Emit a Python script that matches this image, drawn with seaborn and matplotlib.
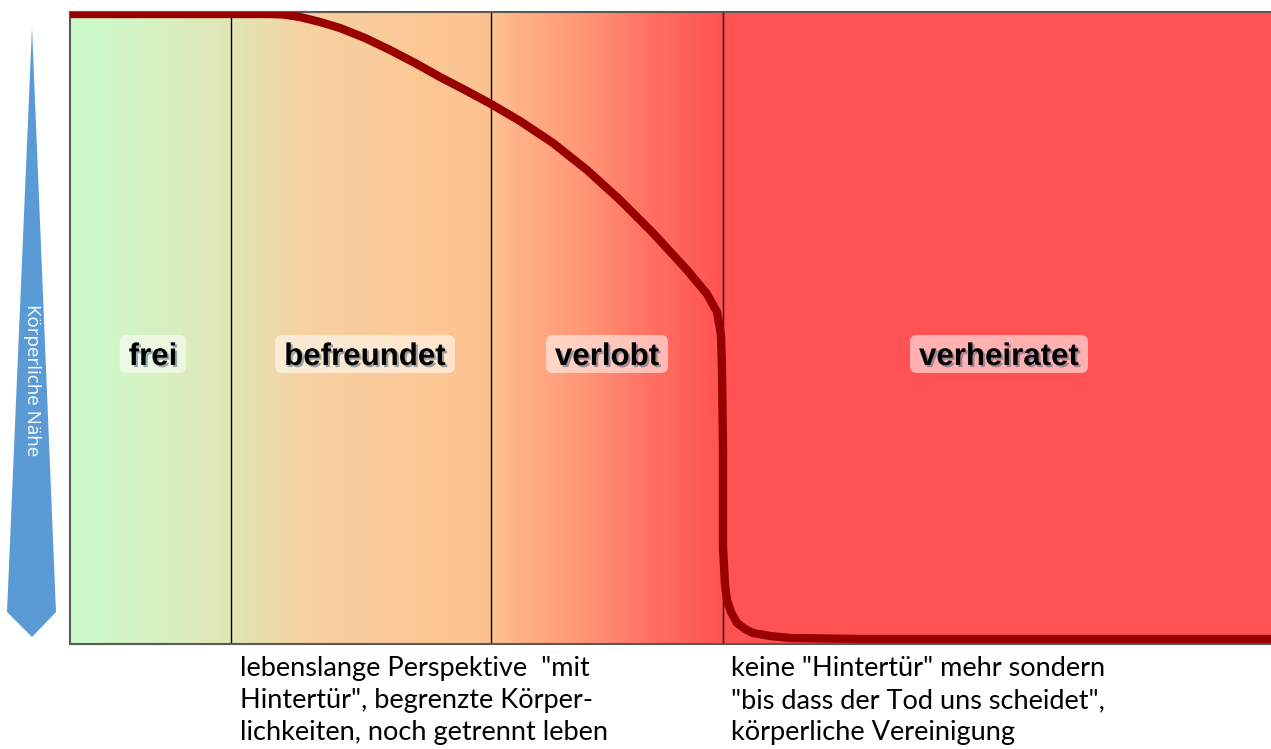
import numpy as np
import pandas as pd
import matplotlib
matplotlib.use("Agg")
import matplotlib.pyplot as plt
import seaborn as sns
from matplotlib.colors import LinearSegmentedColormap
from matplotlib.patches import Polygon, FancyBboxPatch
import matplotlib.patheffects as pe

# ---------------- data ----------------
phase_labels = ["frei", "befreundet", "verlobt", "verheiratet"]
label_x = [83, 295, 537, 929]
phase_bounds = [161, 421, 653]

curve_x = [0, 200, 213, 230, 250, 270, 295, 320, 345, 370, 395, 421, 450, 483,
           517, 550, 583, 617, 637, 647, 651, 652, 653, 653, 655, 657, 661,
           667, 675, 683, 700, 720, 790, 1201]
curve_y = [630, 630, 629.5, 627, 622, 616, 606, 594, 581, 567, 554, 540, 523,
           501, 474, 444, 411, 374, 350, 332, 309, 274, 194, 97, 59, 44, 32,
           21, 15, 11, 8, 6, 5, 5]

y_label = "Körperliche Nähe"
text_left = ["lebenslange Perspektive  \"mit",
             "Hintertür\", begrenzte Körper-",
             "lichkeiten, noch getrennt leben"]
text_right = ["keine \"Hintertür\" mehr sondern",
              "\"bis dass der Tod uns scheidet\",",
              "körperliche Vereinigung"]

# ---------------- style ----------------
sns.set_theme(style="white")
plt.rcParams["font.family"] = ["Liberation Sans", "DejaVu Sans"]

W, H = 1271, 749
fig = plt.figure(figsize=(W / 100, H / 100), dpi=100)
ax = fig.add_axes([70 / W, (H - 644) / H, (W - 70) / W, (644 - 12) / H])

XMAX, YMAX = 1201, 632

stops = [(0.0, "#ccfccc"), (0.134, "#e2e6b6"), (0.19, "#f6d2a2"),
         (0.27, "#fbca98"), (0.35, "#fcc290"), (0.375, "#ffb086"),
         (0.43, "#ff9475"), (0.48, "#ff7262"), (0.53, "#ff5855"),
         (0.545, "#ff5252"), (1.0, "#ff5252")]
cmap = LinearSegmentedColormap.from_list("bg", stops)
grad = np.linspace(0, 1, 1201).reshape(1, -1)
ax.imshow(grad, extent=[0, XMAX, 0, YMAX], aspect="auto", cmap=cmap,
          zorder=0, interpolation="bilinear")

for b in phase_bounds:
    ax.axvline(b, color="black", lw=1, zorder=1)

df = pd.DataFrame({"x": curve_x, "y": curve_y})
sns.lineplot(data=df, x="x", y="y", estimator=None, sort=False,
             color="#990000", lw=6, ax=ax, zorder=3,
             solid_joinstyle="round", solid_capstyle="butt")

ax.set_xlim(0, XMAX)
ax.set_ylim(0, YMAX)
ax.set_xticks([])
ax.set_yticks([])
ax.set_xlabel("")
ax.set_ylabel("")
for s in ["left", "bottom", "top"]:
    ax.spines[s].set_color("#595959")
    ax.spines[s].set_linewidth(1.5)
ax.spines["right"].set_visible(False)

texts = []
for lx, lab in zip(label_x, phase_labels):
    t = ax.text(lx, 279, lab, ha="center", va="baseline", fontsize=22.5,
                fontweight="bold", color="black", zorder=5,
                path_effects=[pe.withSimplePatchShadow(offset=(1.5, -1.5),
                                                       shadow_rgbFace="#2a4a70",
                                                       alpha=0.45)])
    texts.append(t)

fig.canvas.draw()
renderer = fig.canvas.get_renderer()
inv = ax.transData.inverted()
for t in texts:
    bb = t.get_window_extent(renderer)
    (x0, _), (x1, _) = inv.transform([[bb.x0, bb.y0], [bb.x1, bb.y1]])
    pad = 9
    box = FancyBboxPatch((x0 - pad, 271), (x1 - x0) + 2 * pad, 38,
                         boxstyle="round,pad=0,rounding_size=7",
                         fc="white", ec="none", alpha=0.55, zorder=4)
    ax.add_patch(box)

# left arrow
arrow = Polygon([[32 / W, 1 - 27 / H], [56 / W, 1 - 612 / H],
                 [32 / W, 1 - 637 / H], [7 / W, 1 - 612 / H]],
                closed=True, transform=fig.transFigure,
                fc="#5b9bd5", ec="none")
fig.add_artist(arrow)
fig.text(32 / W, 1 - 380 / H, y_label, rotation=270, ha="center", va="center",
         color="white", fontsize=13.5, family=["Open Sans", "DejaVu Sans"])

baselines = [676, 708, 740]
for line, by in zip(text_left, baselines):
    fig.text(240 / W, 1 - by / H, line, ha="left", va="baseline",
             fontsize=19.5, color="black", family=["Lato", "DejaVu Sans"])
for line, by in zip(text_right, baselines):
    fig.text(731 / W, 1 - by / H, line, ha="left", va="baseline",
             fontsize=19.5, color="black", family=["Lato", "DejaVu Sans"])

fig.savefig("out.png", dpi=100)
